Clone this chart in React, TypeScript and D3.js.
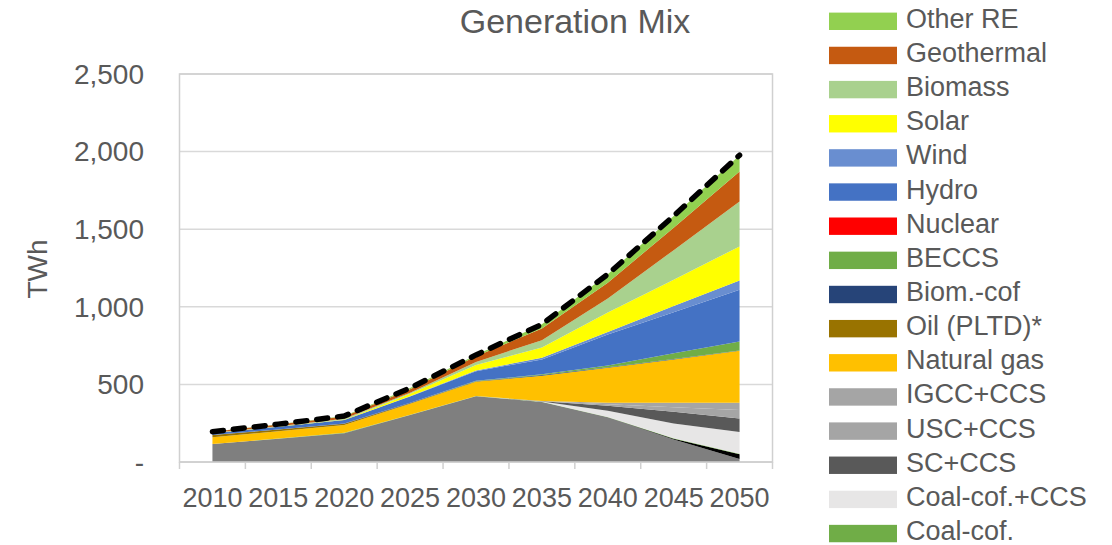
import React from "react";
import * as d3 from "d3";

// ---- data (TWh) ----
const years = ["2010", "2015", "2020", "2025", "2030", "2035", "2040", "2045", "2050"];

const coal = [116, 150, 186, 303, 423, 387, 288, 145, 20];
const coalOld = [0, 0, 0, 0, 0, 0, 0, 5, 30];
const coalCof = [0, 1, 2, 2, 2, 2, 2, 3, 3];
const coalCofCCS = [0, 0, 0, 0, 0, 1, 40, 95, 140];
const scCCS = [0, 0, 0, 0, 0, 1, 32, 75, 87];
const uscCCS = [0, 0, 0, 0, 0, 1, 10, 30, 55];
const igccCCS = [0, 0, 0, 0, 0, 1, 10, 28, 47];
const naturalGas = [44, 47, 50, 71, 92, 163, 226, 280, 335];
const oil = [14, 11, 8, 3, 1, 0, 0, 0, 0];
const biomCof = [0, 1, 2, 3, 3, 4, 3, 3, 2];
const beccs = [0, 0, 0, 0, 2, 5, 10, 36, 58];
const nuclear = [0, 0, 0, 0, 0, 0, 0, 0, 0];
const hydro = [12, 17, 22, 40, 62, 96, 200, 265, 333];
const wind = [0, 0, 0, 2, 5, 10, 17, 40, 60];
const solar = [0, 1, 3, 15, 35, 67, 125, 170, 219];
const biomass = [2, 3, 5, 8, 20, 47, 90, 190, 290];
const geothermal = [7, 11, 15, 22, 37, 75, 102, 145, 193];
const otherRE = [0, 2, 3, 8, 8, 27, 55, 75, 105];

const yTicks = [0, 500, 1000, 1500, 2000, 2500];
const yTickLabels = ["-", "500", "1,000", "1,500", "2,000", "2,500"];

// stacking order, bottom to top
const seriesDefs = [
  { key: "coal", name: "Coal", color: "#7F7F7F", values: coal, legend: false },
  { key: "coalOld", name: "Coal (sub-critical)", color: "#000000", values: coalOld, legend: false },
  { key: "coalCof", name: "Coal-cof.", color: "#70AD47", values: coalCof, legend: true },
  { key: "coalCofCCS", name: "Coal-cof.+CCS", color: "#E7E6E6", values: coalCofCCS, legend: true },
  { key: "scCCS", name: "SC+CCS", color: "#595959", values: scCCS, legend: true },
  { key: "uscCCS", name: "USC+CCS", color: "#A5A5A5", values: uscCCS, legend: true },
  { key: "igccCCS", name: "IGCC+CCS", color: "#A5A5A5", values: igccCCS, legend: true },
  { key: "gas", name: "Natural gas", color: "#FFC000", values: naturalGas, legend: true },
  { key: "oil", name: "Oil (PLTD)*", color: "#997300", values: oil, legend: true },
  { key: "biomCof", name: "Biom.-cof", color: "#264478", values: biomCof, legend: true },
  { key: "beccs", name: "BECCS", color: "#70AD47", values: beccs, legend: true },
  { key: "nuclear", name: "Nuclear", color: "#FF0000", values: nuclear, legend: true },
  { key: "hydro", name: "Hydro", color: "#4472C4", values: hydro, legend: true },
  { key: "wind", name: "Wind", color: "#698ED0", values: wind, legend: true },
  { key: "solar", name: "Solar", color: "#FFFF00", values: solar, legend: true },
  { key: "biomass", name: "Biomass", color: "#A9D18E", values: biomass, legend: true },
  { key: "geothermal", name: "Geothermal", color: "#C55A11", values: geothermal, legend: true },
  { key: "otherRE", name: "Other RE", color: "#92D050", values: otherRE, legend: true },
];

const FONT = "'Liberation Sans', Arial, sans-serif";
const TEXT = "#595959";

export default function App() {
  const W = 1112;
  const H = 545;
  const left = 179.5;
  const right = 772.5;
  const top = 74;
  const bottom = 462;

  const x = d3.scaleBand<string>().domain(years).range([left, right]);
  const cx = (yr: string) => (x(yr) as number) + x.bandwidth() / 2;
  const y = d3.scaleLinear().domain([0, 2500]).range([bottom, top]);

  const keys = seriesDefs.map((s) => s.key);
  const table = years.map((yr, i) => {
    const row: any = { year: yr };
    seriesDefs.forEach((s) => (row[s.key] = s.values[i]));
    return row;
  });
  const stacked = d3.stack<any>().keys(keys)(table);

  const area = d3
    .area<any>()
    .x((d: any) => cx(d.data.year))
    .y0((d: any) => y(d[0]))
    .y1((d: any) => y(d[1]));

  const topLayer = stacked[stacked.length - 1];
  const totalLine = d3
    .line<any>()
    .x((d: any) => cx(d.data.year))
    .y((d: any) => y(d[1]));

  const legendItems = [...seriesDefs].reverse().filter((s) => s.legend);
  const boundaries = [...years.map((yr) => x(yr) as number), right];

  return (
    <svg
      width={W}
      height={H}
      style={{ position: "absolute", left: 0, top: 0, background: "#fff" }}
      fontFamily={FONT}
    >
      <rect x={0} y={0} width={W} height={H} fill="#fff" />
      {/* title */}
      <text x={575} y={33} textAnchor="middle" fontSize={34} fill={TEXT}>
        Generation Mix
      </text>

      {/* gridlines */}
      {yTicks.map((t) => (
        <line
          key={t}
          x1={left}
          x2={right}
          y1={y(t)}
          y2={y(t)}
          stroke="#D9D9D9"
          strokeWidth={1.5}
        />
      ))}
      {/* plot border */}
      <rect
        x={left}
        y={top}
        width={right - left}
        height={bottom - top}
        fill="none"
        stroke="#D0D0D0"
        strokeWidth={1.5}
      />

      {/* areas */}
      {stacked.map((layer, i) => (
        <path key={layer.key} d={area(layer) as string} fill={seriesDefs[i].color} />
      ))}

      {/* x axis */}
      <line x1={left} x2={right} y1={bottom} y2={bottom} stroke="#D0D0D0" strokeWidth={1.5} />
      {boundaries.map((b, i) => (
        <line key={i} x1={b} x2={b} y1={bottom} y2={bottom + 7} stroke="#D0D0D0" strokeWidth={1.5} />
      ))}

      {/* total line */}
      <path
        d={totalLine(topLayer as any) as string}
        fill="none"
        stroke="#000"
        strokeWidth={5.5}
        strokeDasharray="11 10"
        strokeLinecap="round"
        strokeLinejoin="round"
      />

      {/* x labels */}
      {years.map((yr) => (
        <text key={yr} x={cx(yr)} y={507} textAnchor="middle" fontSize={27} fill={TEXT}>
          {yr}
        </text>
      ))}

      {/* y labels */}
      {yTicks.map((t, i) => (
        <text
          key={t}
          x={144}
          y={y(t)}
          dy="0.35em"
          textAnchor="end"
          fontSize={28}
          fill={TEXT}
        >
          {yTickLabels[i]}
        </text>
      ))}

      {/* y title */}
      <text
        transform={`translate(47,${269}) rotate(-90)`}
        textAnchor="middle"
        fontSize={28}
        fill={TEXT}
      >
        TWh
      </text>

      {/* legend */}
      {legendItems.map((s, i) => {
        const yy = 12.6 + i * 34.15;
        return (
          <g key={s.key}>
            <rect x={829} y={yy} width={68} height={17.4} fill={s.color} />
            <text x={906} y={yy + 15.2} fontSize={27} fill={TEXT}>
              {s.name}
            </text>
          </g>
        );
      })}
    </svg>
  );
}
